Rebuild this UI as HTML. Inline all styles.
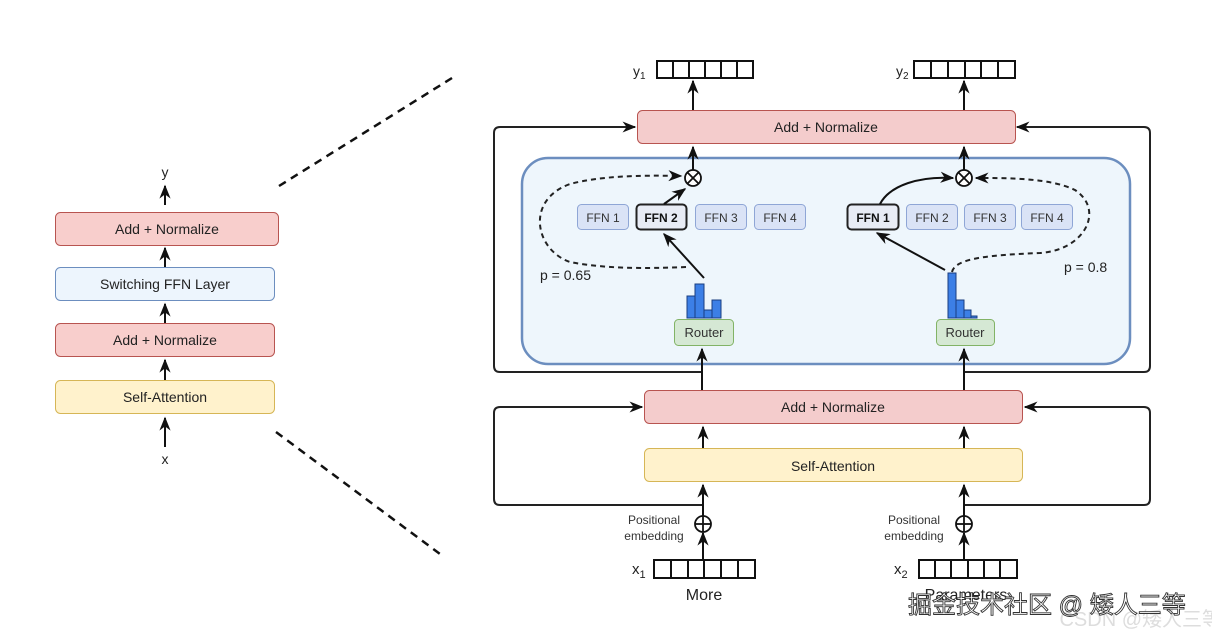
<!DOCTYPE html>
<html><head><meta charset="utf-8"><style>
html,body{margin:0;padding:0;background:#fff;}
svg{display:block;font-family:"Liberation Sans","Noto Sans CJK SC",sans-serif;}
</style></head><body>
<svg width="1212" height="638" viewBox="0 0 1212 638" xmlns="http://www.w3.org/2000/svg">
<defs>
<marker id="a" viewBox="0 0 10 10" refX="9" refY="5" markerWidth="7" markerHeight="7" orient="auto-start-reverse"><path d="M0,1 L10,5 L0,9 L3,5 z" fill="#111"/></marker>
</defs>
<line x1="279" y1="186" x2="452" y2="78" stroke="#111" stroke-width="2.5" stroke-dasharray="8,6"/>
<line x1="276" y1="432" x2="440" y2="554" stroke="#111" stroke-width="2.5" stroke-dasharray="8,6"/>

<g font-size="14" fill="#222" text-anchor="middle">
<text x="165" y="177">y</text>
<line x1="165" y1="205" x2="165" y2="186" stroke="#111" stroke-width="2" marker-end="url(#a)"/>
<rect x="55.5" y="212.5" width="223" height="33" rx="5" fill="#f8cecc" stroke="#b85450"/>
<text x="167" y="234">Add + Normalize</text>
<line x1="165" y1="267" x2="165" y2="248" stroke="#111" stroke-width="2" marker-end="url(#a)"/>
<rect x="55.5" y="267.5" width="219" height="33" rx="5" fill="#edf5fd" stroke="#6c8ebf"/>
<text x="165" y="289">Switching FFN Layer</text>
<line x1="165" y1="323" x2="165" y2="304" stroke="#111" stroke-width="2" marker-end="url(#a)"/>
<rect x="55.5" y="323.5" width="219" height="33" rx="5" fill="#f8cecc" stroke="#b85450"/>
<text x="165" y="345">Add + Normalize</text>
<line x1="165" y1="380" x2="165" y2="360" stroke="#111" stroke-width="2" marker-end="url(#a)"/>
<rect x="55.5" y="380.5" width="219" height="33" rx="5" fill="#fff2cc" stroke="#d6b656"/>
<text x="165" y="402">Self-Attention</text>
<line x1="165" y1="447" x2="165" y2="418" stroke="#111" stroke-width="2" marker-end="url(#a)"/>
<text x="165" y="464">x</text>
</g>

<path d="M703,372 H500 Q494,372 494,366 V133 Q494,127 500,127 H635" fill="none" stroke="#222" stroke-width="2" marker-end="url(#a)"/>
<path d="M964,372 H1144 Q1150,372 1150,366 V133 Q1150,127 1144,127 H1017" fill="none" stroke="#222" stroke-width="2" marker-end="url(#a)"/>
<path d="M703,505 H500 Q494,505 494,499 V413 Q494,407 500,407 H642" fill="none" stroke="#222" stroke-width="2" marker-end="url(#a)"/>
<path d="M964,505 H1144 Q1150,505 1150,499 V413 Q1150,407 1144,407 H1025" fill="none" stroke="#222" stroke-width="2" marker-end="url(#a)"/>

<rect x="522" y="158" width="608" height="206" rx="26" fill="#eef6fc" stroke="#6c8ebf" stroke-width="2.5"/>

<rect x="637.5" y="110.5" width="378" height="33" rx="5" fill="#f4cccc" stroke="#b85450"/>
<text x="826" y="132" font-size="14" fill="#222" text-anchor="middle">Add + Normalize</text>

<g stroke="#111" stroke-width="2" fill="#fff">
<rect x="657" y="61" width="96" height="17"/>
<rect x="914" y="61" width="101" height="17"/>
</g>
<g stroke="#111" stroke-width="2">
<line x1="673" y1="61" x2="673" y2="78"/><line x1="689" y1="61" x2="689" y2="78"/><line x1="705" y1="61" x2="705" y2="78"/><line x1="721" y1="61" x2="721" y2="78"/><line x1="737" y1="61" x2="737" y2="78"/>
<line x1="931" y1="61" x2="931" y2="78"/><line x1="948" y1="61" x2="948" y2="78"/><line x1="965" y1="61" x2="965" y2="78"/><line x1="981" y1="61" x2="981" y2="78"/><line x1="998" y1="61" x2="998" y2="78"/>
</g>
<text x="633" y="76" font-size="14" fill="#222">y<tspan font-size="10" dy="3">1</tspan></text>
<text x="896" y="76" font-size="14" fill="#222">y<tspan font-size="10" dy="3">2</tspan></text>
<line x1="693" y1="110" x2="693" y2="81" stroke="#111" stroke-width="2" marker-end="url(#a)"/>
<line x1="964" y1="110" x2="964" y2="81" stroke="#111" stroke-width="2" marker-end="url(#a)"/>
<line x1="693" y1="170" x2="693" y2="147" stroke="#111" stroke-width="2" marker-end="url(#a)"/>
<line x1="964" y1="170" x2="964" y2="147" stroke="#111" stroke-width="2" marker-end="url(#a)"/>

<g stroke="#111" stroke-width="1.8" fill="#fff">
<circle cx="693" cy="178" r="8"/><circle cx="964" cy="178" r="8"/>
<line x1="687.5" y1="172.5" x2="698.5" y2="183.5"/><line x1="698.5" y1="172.5" x2="687.5" y2="183.5"/>
<line x1="958.5" y1="172.5" x2="969.5" y2="183.5"/><line x1="969.5" y1="172.5" x2="958.5" y2="183.5"/>
</g>

<g font-size="12" fill="#333" text-anchor="middle">
<rect x="577.5" y="204.5" width="51" height="25" rx="4" fill="#dae3f6" stroke="#8fa6d6"/><text x="603" y="222">FFN 1</text>
<rect x="636.5" y="204.5" width="50" height="25" rx="4" fill="#e8ecf5" stroke="#222" stroke-width="2"/><text x="661" y="222" font-weight="bold" fill="#111">FFN 2</text>
<rect x="695.5" y="204.5" width="51" height="25" rx="4" fill="#dae3f6" stroke="#8fa6d6"/><text x="721" y="222">FFN 3</text>
<rect x="754.5" y="204.5" width="51" height="25" rx="4" fill="#dae3f6" stroke="#8fa6d6"/><text x="780" y="222">FFN 4</text>
<rect x="847.5" y="204.5" width="51" height="25" rx="4" fill="#e8ecf5" stroke="#222" stroke-width="2"/><text x="873" y="222" font-weight="bold" fill="#111">FFN 1</text>
<rect x="906.5" y="204.5" width="51" height="25" rx="4" fill="#dae3f6" stroke="#8fa6d6"/><text x="932" y="222">FFN 2</text>
<rect x="964.5" y="204.5" width="51" height="25" rx="4" fill="#dae3f6" stroke="#8fa6d6"/><text x="990" y="222">FFN 3</text>
<rect x="1021.5" y="204.5" width="51" height="25" rx="4" fill="#dae3f6" stroke="#8fa6d6"/><text x="1047" y="222">FFN 4</text>
</g>

<line x1="704" y1="278" x2="664" y2="234" stroke="#111" stroke-width="2" marker-end="url(#a)"/>
<line x1="664" y1="204" x2="685" y2="189" stroke="#111" stroke-width="2" marker-end="url(#a)"/>
<path d="M686,267 C660,268 610,270 570,262 C535,250 525,200 570,184 C600,176 640,175 681,176" fill="none" stroke="#222" stroke-width="2" stroke-dasharray="5,4" marker-end="url(#a)"/>
<line x1="945" y1="270" x2="877" y2="233" stroke="#111" stroke-width="2" marker-end="url(#a)"/>
<path d="M880,204 C890,185 920,176 953,178" fill="none" stroke="#111" stroke-width="2" marker-end="url(#a)"/>
<path d="M952,272 C955,258 990,255 1040,253 C1085,250 1105,210 1075,190 C1050,178 1010,178 976,178" fill="none" stroke="#222" stroke-width="2" stroke-dasharray="5,4" marker-end="url(#a)"/>
<text x="540" y="280" font-size="14" fill="#222">p = 0.65</text>
<text x="1064" y="272" font-size="14" fill="#222">p = 0.8</text>

<g fill="#3c7fe6" stroke="#1a3d80" stroke-width="1">
<rect x="687" y="296" width="8" height="22"/><rect x="695" y="284" width="9" height="34"/><rect x="704" y="310" width="8" height="8"/><rect x="712" y="300" width="9" height="18"/>
<rect x="948" y="273" width="8" height="45"/><rect x="956" y="300" width="8" height="18"/><rect x="964" y="310" width="7" height="8"/><rect x="971" y="316" width="6" height="2"/>
</g>

<rect x="674.5" y="319.5" width="59" height="26" rx="4" fill="#d5e8d4" stroke="#82b366"/>
<text x="704" y="337" font-size="13" fill="#333" text-anchor="middle">Router</text>
<rect x="936.5" y="319.5" width="58" height="26" rx="4" fill="#d5e8d4" stroke="#82b366"/>
<text x="965" y="337" font-size="13" fill="#333" text-anchor="middle">Router</text>
<line x1="702" y1="390" x2="702" y2="349" stroke="#111" stroke-width="2" marker-end="url(#a)"/>
<line x1="964" y1="390" x2="964" y2="349" stroke="#111" stroke-width="2" marker-end="url(#a)"/>

<rect x="644.5" y="390.5" width="378" height="33" rx="5" fill="#f4cccc" stroke="#b85450"/>
<text x="833" y="412" font-size="14" fill="#222" text-anchor="middle">Add + Normalize</text>
<line x1="703" y1="448" x2="703" y2="427" stroke="#111" stroke-width="2" marker-end="url(#a)"/>
<line x1="964" y1="448" x2="964" y2="427" stroke="#111" stroke-width="2" marker-end="url(#a)"/>
<rect x="644.5" y="448.5" width="378" height="33" rx="5" fill="#fff2cc" stroke="#d6b656"/>
<text x="833" y="471" font-size="14" fill="#222" text-anchor="middle">Self-Attention</text>
<line x1="703" y1="516" x2="703" y2="485" stroke="#111" stroke-width="2" marker-end="url(#a)"/>
<line x1="964" y1="516" x2="964" y2="485" stroke="#111" stroke-width="2" marker-end="url(#a)"/>

<g stroke="#111" stroke-width="1.8" fill="#fff">
<circle cx="703" cy="524" r="8"/><circle cx="964" cy="524" r="8"/>
<line x1="695" y1="524" x2="711" y2="524"/><line x1="703" y1="516" x2="703" y2="532"/>
<line x1="956" y1="524" x2="972" y2="524"/><line x1="964" y1="516" x2="964" y2="532"/>
</g>
<line x1="703" y1="559" x2="703" y2="533" stroke="#111" stroke-width="2" marker-end="url(#a)"/>
<line x1="964" y1="559" x2="964" y2="533" stroke="#111" stroke-width="2" marker-end="url(#a)"/>
<g font-size="12" fill="#333" text-anchor="middle">
<text x="654" y="524">Positional</text><text x="654" y="540">embedding</text>
<text x="914" y="524">Positional</text><text x="914" y="540">embedding</text>
</g>

<g stroke="#111" stroke-width="2" fill="#fff">
<rect x="654" y="560" width="101" height="18"/>
<rect x="919" y="560" width="98" height="18"/>
</g>
<g stroke="#111" stroke-width="2">
<line x1="671" y1="560" x2="671" y2="578"/><line x1="688" y1="560" x2="688" y2="578"/><line x1="704" y1="560" x2="704" y2="578"/><line x1="721" y1="560" x2="721" y2="578"/><line x1="738" y1="560" x2="738" y2="578"/>
<line x1="935" y1="560" x2="935" y2="578"/><line x1="951" y1="560" x2="951" y2="578"/><line x1="968" y1="560" x2="968" y2="578"/><line x1="984" y1="560" x2="984" y2="578"/><line x1="1000" y1="560" x2="1000" y2="578"/>
</g>
<text x="632" y="574" font-size="15" fill="#222">x<tspan font-size="11" dy="4">1</tspan></text>
<text x="894" y="574" font-size="15" fill="#222">x<tspan font-size="11" dy="4">2</tspan></text>
<text x="704" y="600" font-size="16" fill="#222" text-anchor="middle">More</text>
<text x="966" y="600" font-size="16" fill="#222" text-anchor="middle">Parameters</text>

<text x="1222" y="626" font-size="20" fill="#ddd" text-anchor="end">CSDN @矮人三等</text>
<text x="908" y="613" font-size="24" fill="#fff" stroke="#333" stroke-width="0.9">掘金技术社区 @ 矮人三等</text>
</svg>
</body></html>
